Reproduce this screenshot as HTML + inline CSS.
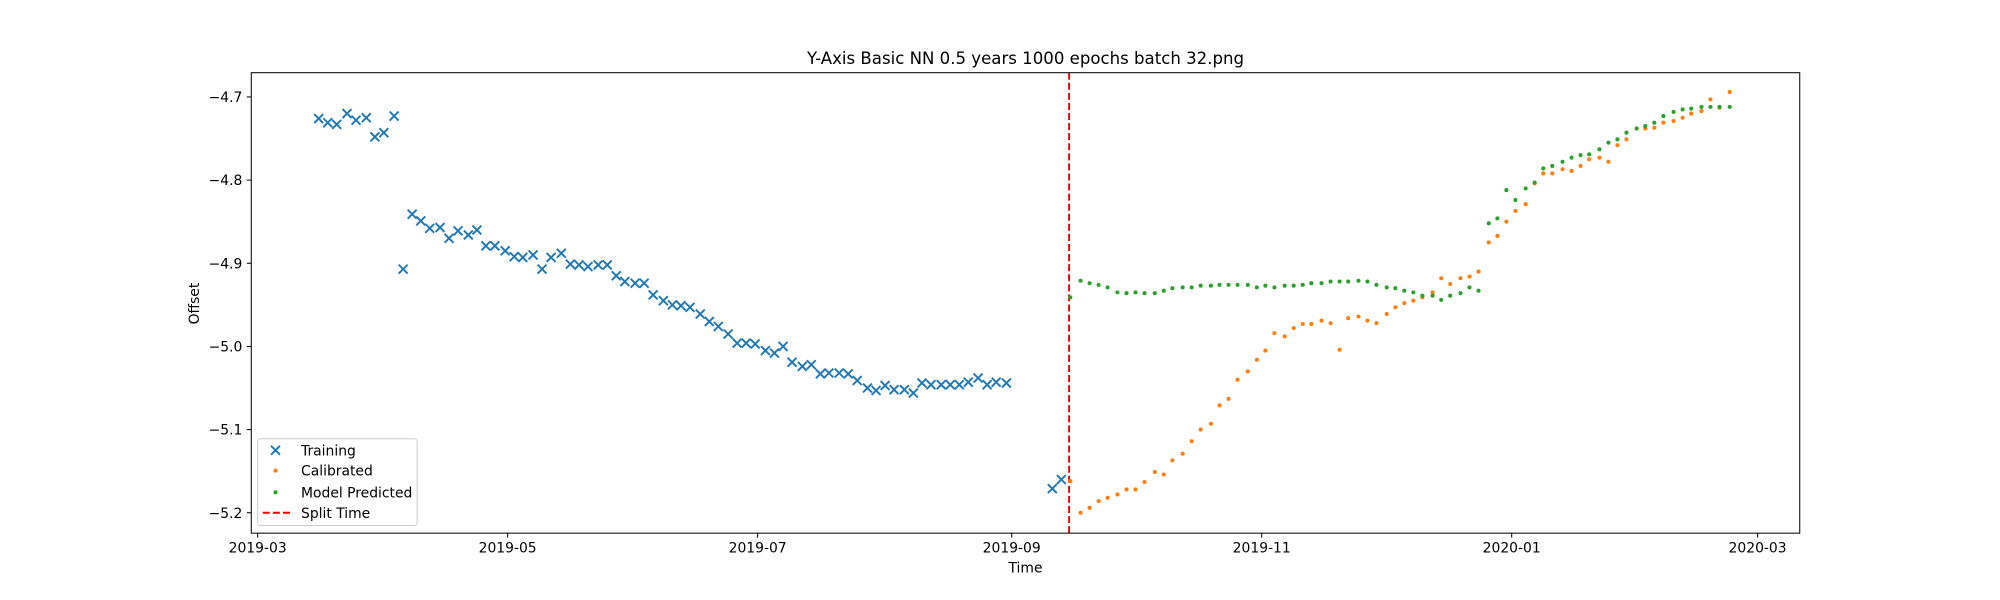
<!DOCTYPE html>
<html><head><meta charset="utf-8"><style>
html,body{margin:0;padding:0;background:#fff;}
svg{display:block;font-family:"DejaVu Sans","Liberation Sans",sans-serif;}
</style></head><body>
<svg id="chart" width="2000" height="600" viewBox="0 0 1568 470.4" preserveAspectRatio="none" xmlns="http://www.w3.org/2000/svg">
<rect width="1568" height="470.4" fill="#fff"/>
<text x="804" y="50" font-size="13" text-anchor="middle">Y-Axis Basic NN 0.5 years 1000 epochs batch 32.png</text>
<g id="plot"></g>
<rect x="197" y="57" width="1214" height="361" fill="none" stroke="#000" stroke-width="0.8"/>
<text x="804" y="449" font-size="10.9" text-anchor="middle">Time</text>
<text transform="translate(156,238) rotate(-90)" font-size="10.9" text-anchor="middle">Offset</text>
<g>
<rect x="202" y="344" width="125" height="68" rx="2" fill="#fff" fill-opacity="0.8" stroke="#ccc" stroke-width="0.8"/>
<g><path d="M212.5 349.5 L219.5 356.5 M219.5 349.5 L212.5 356.5" stroke="#1f77b4" stroke-width="1.5"/><text x="236" y="357" font-size="10.9">Training</text></g>
<g><circle cx="216" cy="369" r="1.6" fill="#ff7f0e"/><text x="236" y="373" font-size="10.9">Calibrated</text></g>
<g><circle cx="216" cy="386" r="1.6" fill="#2ca02c"/><text x="236" y="390" font-size="10.9">Model Predicted</text></g>
<g><line x1="206" y1="402" x2="228" y2="402" stroke="#e00" stroke-width="1.5" stroke-dasharray="5.5,2.4"/><text x="236" y="406" font-size="10.9">Split Time</text></g>
</g>
</svg>
<script>
const trainDays=[14.9,17.1,19.3,21.8,24.0,26.5,28.6,30.8,33.3,35.5,37.7,39.8,42.0,44.5,46.7,48.9,51.4,53.5,55.7,57.9,60.4,62.6,64.7,67.2,69.4,71.6,74.1,76.3,78.4,80.6,83.1,85.3,87.5,89.6,92.1,94.3,96.5,99.0,101.2,103.3,105.5,108.0,110.2,112.4,114.8,117.0,119.2,121.4,123.9,126.1,128.2,130.4,132.9,135.1,137.3,139.4,141.9,144.1,146.3,148.8,150.9,153.1,155.3,157.8,160.0,162.1,164.3,166.8,169.0,171.2,173.4,175.8,178.0,180.2,182.7,193.9,196.1];
const trainVals=[-4.726,-4.731,-4.733,-4.72,-4.728,-4.725,-4.748,-4.743,-4.723,-4.907,-4.841,-4.849,-4.858,-4.857,-4.87,-4.861,-4.866,-4.86,-4.879,-4.879,-4.885,-4.892,-4.893,-4.89,-4.907,-4.893,-4.888,-4.901,-4.902,-4.904,-4.902,-4.902,-4.915,-4.922,-4.924,-4.924,-4.938,-4.945,-4.95,-4.951,-4.953,-4.961,-4.97,-4.976,-4.985,-4.996,-4.996,-4.997,-5.005,-5.008,-5.0,-5.019,-5.024,-5.022,-5.033,-5.032,-5.032,-5.033,-5.041,-5.05,-5.053,-5.047,-5.052,-5.052,-5.056,-5.044,-5.046,-5.046,-5.046,-5.046,-5.043,-5.038,-5.046,-5.043,-5.044,-5.171,-5.16];
const predPx=[839,847,854,861,868,876,883,890,897,905,912,919,927,934,941,949,956,963,970,978,985,992,999,1007,1014,1021,1028,1036,1043,1050,1057,1065,1072,1079,1087,1094,1101,1108,1115,1123,1130,1137,1145,1152,1159,1167,1174,1181,1188,1196,1203,1210,1217,1225,1232,1239,1246,1254,1261,1268,1275,1283,1290,1297,1304,1312,1319,1326,1334,1341,1348,1356];
const predDays=[198.3,200.8,203.0,205.2,207.4,209.8,212.0,214.2,216.4,218.9,221.1,223.2,225.7,227.9,230.1,232.6,234.7,236.9,239.1,241.6,243.8,245.9,248.1,250.6,252.8,255.0,257.1,259.6,261.8,264.0,266.1,268.6,270.8,273.0,275.5,277.6,279.8,282.0,284.2,286.7,288.8,291.0,293.5,295.7,297.9,300.4,302.5,304.7,306.9,309.4,311.6,313.7,315.9,318.4,320.6,322.8,324.9,327.4,329.6,331.8,334.0,336.5,338.6,340.8,343.0,345.5,347.7,349.8,352.3,354.5,356.7,359.2];
const calibVals=[-5.162,-5.2,-5.194,-5.186,-5.182,-5.178,-5.172,-5.172,-5.163,-5.151,-5.154,-5.137,-5.129,-5.114,-5.1,-5.093,-5.071,-5.063,-5.04,-5.03,-5.016,-5.005,-4.984,-4.988,-4.978,-4.973,-4.973,-4.969,-4.972,-5.004,-4.966,-4.964,-4.969,-4.972,-4.961,-4.953,-4.948,-4.945,-4.941,-4.935,-4.918,-4.925,-4.918,-4.916,-4.91,-4.875,-4.867,-4.85,-4.837,-4.829,-4.804,-4.792,-4.792,-4.787,-4.789,-4.783,-4.775,-4.773,-4.778,-4.758,-4.751,-4.738,-4.738,-4.737,-4.731,-4.729,-4.725,-4.72,-4.717,-4.703,-4.713,-4.694];
const predVals=[-4.941,-4.921,-4.924,-4.926,-4.929,-4.935,-4.936,-4.935,-4.936,-4.936,-4.933,-4.93,-4.929,-4.929,-4.927,-4.927,-4.926,-4.926,-4.926,-4.926,-4.929,-4.927,-4.929,-4.927,-4.927,-4.926,-4.924,-4.924,-4.922,-4.922,-4.922,-4.921,-4.922,-4.926,-4.929,-4.93,-4.933,-4.935,-4.939,-4.939,-4.944,-4.939,-4.936,-4.929,-4.933,-4.852,-4.846,-4.812,-4.824,-4.81,-4.803,-4.786,-4.783,-4.778,-4.773,-4.77,-4.769,-4.763,-4.755,-4.751,-4.743,-4.738,-4.735,-4.731,-4.723,-4.718,-4.715,-4.714,-4.712,-4.712,-4.712,-4.712];
const splitDay=[198];
const xTickDays=[0,61,122,184,245,306,366];
const xTickLabels=["2019-03","2019-05","2019-07","2019-09","2019-11","2020-01","2020-03"];
const yTicks=[-4.7,-4.8,-4.9,-5.0,-5.1,-5.2];
const yTickLabels=["\u22124.7","\u22124.8","\u22124.9","\u22125.0","\u22125.1","\u22125.2"];

const NS="http://www.w3.org/2000/svg";
const g=document.getElementById('plot');
const X=d=>202+d*3.213;
const Y=v=>76+(-4.7-v)*652;
function mk(tag,attrs,parent){const e=document.createElementNS(NS,tag);for(const k in attrs)e.setAttribute(k,attrs[k]);(parent||g).appendChild(e);return e;}

xTickDays.forEach((d,i)=>{
  const t=mk('g',{});
  
  
  mk('line',{x1:X(d),x2:X(d),y1:418,y2:421.5,stroke:'#000','stroke-width':0.8},t);
  const tx=mk('text',{x:X(d),y:433,'font-size':10.9,'text-anchor':'middle'},t);tx.textContent=xTickLabels[i];
});
yTicks.forEach((v,i)=>{
  const t=mk('g',{});
  
  
  mk('line',{x1:193.5,x2:197,y1:Y(v),y2:Y(v),stroke:'#000','stroke-width':0.8},t);
  const tx=mk('text',{x:190,y:Y(v)+4,'font-size':10.9,'text-anchor':'end'},t);tx.textContent=yTickLabels[i];
});
const sl=mk('line',{x1:X(splitDay[0]),x2:X(splitDay[0]),y1:57,y2:418,stroke:'#e00','stroke-width':1.5,'stroke-dasharray':'5.5,2.4'});


trainDays.forEach((d,i)=>{
  const x=X(d),y=Y(trainVals[i]);
  const p=mk('path',{d:`M${x-3.5} ${y-3.5} L${x+3.5} ${y+3.5} M${x+3.5} ${y-3.5} L${x-3.5} ${y+3.5}`,stroke:'#1f77b4','stroke-width':1.5});
  
  
});
predDays.forEach((d,i)=>{
  const c=mk('circle',{cx:X(d),cy:Y(calibVals[i]),r:1.6,fill:'#ff7f0e'});
  
  
});
predDays.forEach((d,i)=>{
  const c=mk('circle',{cx:X(d),cy:Y(predVals[i]),r:1.6,fill:'#2ca02c'});
  
  
});
</script>
</body></html>
